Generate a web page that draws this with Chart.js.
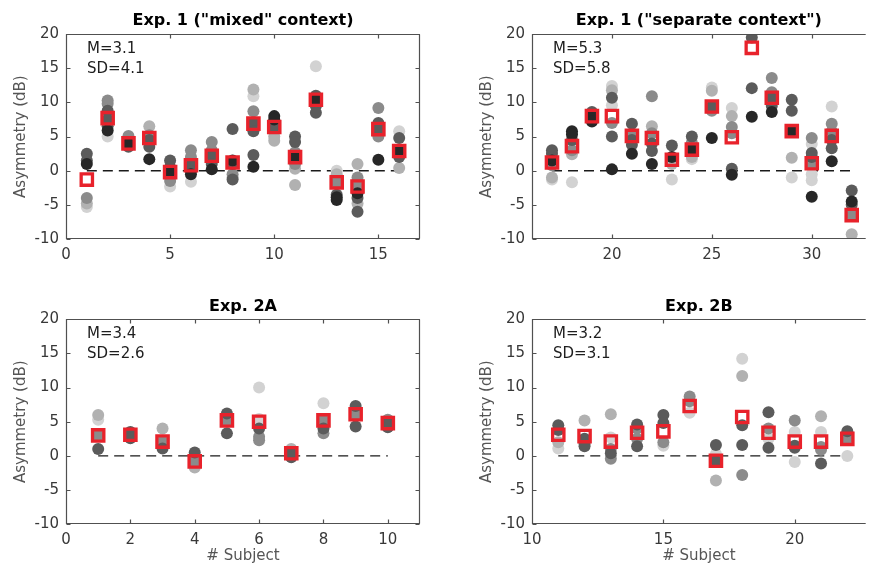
<!DOCTYPE html>
<html>
<head>
<meta charset="utf-8">
<title>Asymmetry per subject</title>
<script src="https://cdn.jsdelivr.net/npm/chart.js@4.4.1/dist/chart.umd.min.js"></script>
<style>
  body { margin: 0; background: #fff; }
  #fig { position: relative; width: 877px; height: 568px; overflow: hidden; }
  #fig canvas { position: absolute; }
</style>
</head>
<body>
<div id="fig">
  <canvas id="c1" width="440" height="285" style="left:0px;top:0px"></canvas>
  <canvas id="c2" width="437" height="285" style="left:440px;top:0px"></canvas>
  <canvas id="c3" width="440" height="283" style="left:0px;top:285px"></canvas>
  <canvas id="c4" width="437" height="283" style="left:440px;top:285px"></canvas>
</div>
<script>
// ---- data ----
// dots: one list of run values per subject, levels = grey shade of each run (0 light .. 4 black)

// Exp. 1 ("mixed" context)
var mixSubjects = [1,2,3,4,5,6,7,8,9,10,11,12,13,14,15,16];
var mixMeans = [-1.3,7.7,4.0,4.8,-0.2,0.8,2.2,1.2,6.9,6.4,2.0,10.4,-1.7,-2.3,6.1,2.9];
var mixVals = [
  [2.5,1.5,1.0,-4.0,-4.8,-5.3],
  [10.3,9.8,8.8,7.5,6.5,5.9,5.0],
  [5.1,4.0,3.5],
  [6.5,5.2,4.5,3.5,1.7],
  [1.5,0.5,-0.2,-1.5,-2.3],
  [3.0,2.0,0.8,0.0,-0.5,-1.6],
  [4.2,3.0,2.2,1.0,0.2],
  [6.1,1.5,1.0,-0.5,-1.0,-1.3],
  [11.9,10.9,8.7,7.0,5.8,2.3,0.6],
  [8.0,7.5,6.4,5.0,4.4],
  [5.0,4.2,2.7,2.0,1.0,0.3,-2.1],
  [15.3,11.0,10.4,9.5,8.5],
  [0.0,-0.5,-1.7,-3.5,-3.9,-4.3],
  [1.0,-1.0,-2.3,-3.3,-4.0,-4.8,-6.0],
  [9.2,7.0,6.5,6.1,5.0,1.6],
  [5.8,4.8,3.0,2.0,0.4]
];
var mixLevels = [
  [3,3,4,2,1,0],
  [2,2,3,3,3,4,0],
  [2,4,3],
  [1,2,3,3,4],
  [3,3,4,2,0],
  [2,2,3,3,4,0],
  [2,2,3,3,4],
  [3,4,3,2,1,3],
  [1,0,2,3,3,3,4],
  [4,4,3,1,1],
  [3,3,2,4,2,1,1],
  [0,3,4,3,3],
  [0,1,2,3,4,4],
  [1,2,2,4,3,1,3],
  [2,3,1,3,2,4],
  [0,3,4,3,1]
];
var mixStats = ['M=3.1', 'SD=4.1'];
var mixTicks = [0,5,10,15];

// Exp. 1 ("separate context")
var sepSubjects = [17,18,19,20,21,22,23,24,25,26,27,28,29,30,31,32];
var sepMeans = [1.2,3.6,8.0,8.0,5.1,4.8,1.6,3.1,9.4,4.9,18.0,10.7,5.8,1.1,5.1,-6.5];
var sepVals = [
  [3.0,2.5,1.5,0.8,-1.0,-1.3],
  [5.8,5.3,4.5,3.0,2.4,-1.7],
  [8.6,8.0,7.2],
  [12.4,11.8,10.7,9.6,7.0,5.0,0.2],
  [6.9,5.5,4.5,3.8,2.5],
  [10.9,6.5,5.5,4.0,2.9,1.0],
  [3.7,2.0,1.0,-1.3],
  [5.0,4.1,3.1,2.0,1.7],
  [12.2,11.7,9.4,8.8,4.8],
  [9.2,8.0,6.4,5.5,0.3,-0.6],
  [19.5,12.1,7.9],
  [13.6,11.5,10.7,9.5,8.6],
  [10.4,8.8,5.8,1.9,-1.0],
  [4.8,3.9,2.6,2.0,1.1,-0.5,-1.4,-3.8],
  [9.4,6.9,5.8,4.5,3.3,1.4],
  [-2.9,-4.5,-5.0,-6.5,-9.3]
];
var sepLevels = [
  [3,3,4,2,1,0],
  [4,4,3,2,1,0],
  [3,4,4],
  [0,1,3,0,2,3,4],
  [3,2,3,3,4],
  [2,1,2,3,3,4],
  [3,4,1,0],
  [3,2,4,1,0],
  [0,1,3,2,4],
  [0,1,2,2,3,4],
  [3,3,4],
  [2,2,3,3,4],
  [3,3,4,1,0],
  [2,0,3,3,2,0,0,4],
  [0,2,2,3,3,4],
  [3,4,3,2,1]
];
var sepStats = ['M=5.3', 'SD=5.8'];
var sepTicks = [20,25,30];

// Exp. 2A
var aSubjects = [1,2,3,4,5,6,7,8,9,10];
var aMeans = [3.0,3.1,2.1,-0.8,5.2,5.0,0.4,5.2,6.1,4.8];
var aVals = [
  [6.0,5.3,3.0,1.0],
  [3.5,3.1,2.6],
  [4.0,2.1,1.1],
  [0.5,-0.8,-1.7],
  [6.2,5.5,5.2,3.3],
  [10.0,5.4,4.0,2.8,2.3],
  [1.0,0.4,-0.2],
  [7.7,5.2,4.0,3.3],
  [7.3,6.1,4.3],
  [5.3,4.8,4.2]
];
var aLevels = [
  [1,0,2,3],
  [3,2,3],
  [1,2,3],
  [3,2,1],
  [3,2,2,3],
  [0,0,3,2,2],
  [1,3,3],
  [0,2,3,2],
  [3,2,3],
  [2,3,3]
];
var aStats = ['M=3.4', 'SD=2.6'];
var aTicks = [0,2,4,6,8,10];

// Exp. 2B
var bSubjects = [11,12,13,14,15,16,17,18,19,20,21,22];
var bMeans = [3.1,2.9,2.1,3.4,3.6,7.3,-0.7,5.7,3.4,2.1,2.1,2.5];
var bVals = [
  [4.5,3.8,2.0,1.1],
  [5.2,2.5,1.8,1.4],
  [6.1,2.7,1.0,0.4,-0.4],
  [4.6,4.0,2.5,1.4],
  [6.0,4.8,2.0,1.5],
  [8.7,8.0,6.3],
  [1.6,0.3,-0.7,-3.6],
  [14.2,11.7,4.5,1.6,-2.8],
  [6.4,4.0,2.5,1.2],
  [5.2,3.5,1.5,1.2,-0.9],
  [5.8,3.5,1.3,0.9,-1.1],
  [3.6,2.5,0.0]
];
var bLevels = [
  [3,3,1,0],
  [1,3,3,3],
  [1,0,2,3,2],
  [3,2,2,3],
  [3,3,2,0],
  [2,2,0],
  [3,0,3,1],
  [0,1,3,3,2],
  [3,2,0,3],
  [2,0,3,3,0],
  [1,0,2,2,3],
  [3,2,0]
];
var bStats = ['M=3.2', 'SD=3.1'];
var bTicks = [10,15,20];

var yTicks = [-10,-5,0,5,10,15,20];

// ---- drawing ----
var shades = ['#d2d2d2', '#b1b1b1', '#8b8b8b', '#5b5b5b', '#272727'];
var FONT = 'DejaVu Sans';

// box with inward tick marks, like matlab "box on"
var framePlugin = {
    id: 'frame',
    afterDatasetsDraw: function (chart, args, opts) {
        var ctx = chart.ctx, a = chart.chartArea;
        var x = chart.scales.x, y = chart.scales.y;
        var L = Math.round(a.left) + 0.5, R = Math.round(a.right) - 0.5;
        var T = Math.round(a.top) + 0.5, B = Math.round(a.bottom) - 0.5;
        ctx.save();
        ctx.strokeStyle = '#505050';
        ctx.lineWidth = 1.2;
        ctx.beginPath();
        ctx.moveTo(a.right, T); ctx.lineTo(L, T); ctx.lineTo(L, B); ctx.lineTo(a.right, B);
        if (opts.right) { ctx.moveTo(R, T); ctx.lineTo(R, B); }
        x.ticks.forEach(function (t) {
            var px = Math.round(x.getPixelForValue(t.value)) + 0.5;
            ctx.moveTo(px, B); ctx.lineTo(px, B - 4);
            ctx.moveTo(px, T); ctx.lineTo(px, T + 4);
        });
        y.ticks.forEach(function (t) {
            var py = Math.round(y.getPixelForValue(t.value)) + 0.5;
            ctx.moveTo(L, py); ctx.lineTo(L + 4, py);
            if (opts.right) { ctx.moveTo(R, py); ctx.lineTo(R - 4, py); }
        });
        ctx.stroke();
        ctx.restore();
    }
};

// M / SD text in the upper left corner
var insetPlugin = {
    id: 'inset',
    afterDraw: function (chart, args, opts) {
        var ctx = chart.ctx, a = chart.chartArea;
        ctx.save();
        ctx.font = '15px "' + FONT + '"';
        ctx.fillStyle = '#1e1e1e';
        ctx.textBaseline = 'middle';
        ctx.textAlign = 'left';
        (opts.lines || []).forEach(function (s, i) {
            ctx.fillText(s, a.left + 21, a.top + 15 + i * 20);
        });
        ctx.restore();
    }
};

function dotData(subjects, vals, levels, lev) {
    var out = [];
    subjects.forEach(function (s, i) {
        vals[i].forEach(function (v, j) {
            if (levels[i][j] === lev) out.push({x: s, y: v});
        });
    });
    return out;
}

function makePanel(id, p) {
    var datasets = [];
    datasets.push({
        data: p.subjects.map(function (s, i) { return {x: s, y: p.means[i]}; }),
        pointStyle: 'rect',
        pointRadius: 8,
        borderColor: '#e8222b',
        borderWidth: 3.3,
        backgroundColor: 'rgba(0,0,0,0)',
        order: 0
    });
    for (var lev = 4; lev >= 0; lev--) {
        datasets.push({
            data: dotData(p.subjects, p.vals, p.levels, lev),
            pointRadius: 6,
            borderWidth: 0,
            backgroundColor: shades[lev],
            clip: 0,
            order: 6 - lev
        });
    }
    var first = p.subjects[0], last = p.subjects[p.subjects.length - 1];
    datasets.push({
        type: 'line',
        data: [{x: first, y: 0}, {x: last, y: 0}],
        borderColor: '#1a1a1a',
        borderWidth: 1.3,
        borderDash: [10, 6],
        pointRadius: 0,
        showLine: true,
        order: 20
    });

    return new Chart(document.getElementById(id), {
        type: 'scatter',
        data: {datasets: datasets},
        plugins: [framePlugin, insetPlugin],
        options: {
            responsive: false,
            animation: false,
            events: [],
            layout: {padding: {left: p.padLeft, right: p.padRight, top: 0, bottom: 0}},
            plugins: {
                legend: {display: false},
                tooltip: {enabled: false},
                title: {
                    display: true,
                    text: p.title,
                    fullSize: false,
                    color: '#000',
                    font: {family: FONT, size: 16, weight: 'bold'},
                    padding: p.titlePad
                },
                frame: {right: p.right},
                inset: {lines: p.stats}
            },
            scales: {
                x: {
                    type: 'linear',
                    min: p.xMin,
                    max: p.xMax,
                    afterBuildTicks: function (scale) {
                        scale.ticks = p.xTicks.map(function (v) { return {value: v}; });
                    },
                    afterFit: function (scale) { scale.height = p.xHeight; },
                    grid: {display: false, drawTicks: false},
                    border: {display: false},
                    ticks: {
                        color: '#383838',
                        padding: 7,
                        maxRotation: 0,
                        autoSkip: false,
                        font: {family: FONT, size: 15}
                    },
                    title: {
                        display: !!p.xTitle,
                        text: p.xTitle || '',
                        color: '#555',
                        font: {family: FONT, size: 15},
                        padding: {top: 0, bottom: 3}
                    }
                },
                y: {
                    min: -10,
                    max: 20,
                    afterBuildTicks: function (scale) {
                        scale.ticks = yTicks.map(function (v) { return {value: v}; });
                    },
                    afterFit: function (scale) { scale.width = 66; },
                    grid: {display: false, drawTicks: false},
                    border: {display: false},
                    ticks: {
                        color: '#383838',
                        padding: 7,
                        font: {family: FONT, size: 15}
                    },
                    title: {
                        display: true,
                        text: 'Asymmetry (dB)',
                        color: '#555',
                        font: {family: FONT, size: 15},
                        padding: {top: 12, bottom: 0}
                    }
                }
            }
        }
    });
}

makePanel('c1', {
    title: 'Exp. 1 ("mixed" context)',
    subjects: mixSubjects, means: mixMeans, vals: mixVals, levels: mixLevels,
    stats: mixStats, xMin: 0, xMax: 17, xTicks: mixTicks,
    padLeft: 0, padRight: 20, right: true, xHeight: 46,
    titlePad: {top: 11, bottom: 4}
});
makePanel('c2', {
    title: 'Exp. 1 ("separate context")',
    subjects: sepSubjects, means: sepMeans, vals: sepVals, levels: sepLevels,
    stats: sepStats, xMin: 16, xMax: 32.7, xTicks: sepTicks,
    padLeft: 26, padRight: 0, right: false, xHeight: 46,
    titlePad: {top: 11, bottom: 4}
});
makePanel('c3', {
    title: 'Exp. 2A',
    subjects: aSubjects, means: aMeans, vals: aVals, levels: aLevels,
    stats: aStats, xMin: 0, xMax: 11, xTicks: aTicks, xTitle: '# Subject',
    padLeft: 0, padRight: 20, right: true, xHeight: 43.7,
    titlePad: {top: 12, bottom: 3}
});
makePanel('c4', {
    title: 'Exp. 2B',
    subjects: bSubjects, means: bMeans, vals: bVals, levels: bLevels,
    stats: bStats, xMin: 10, xMax: 22.7, xTicks: bTicks, xTitle: '# Subject',
    padLeft: 26, padRight: 0, right: false, xHeight: 43.7,
    titlePad: {top: 12, bottom: 3}
});
</script>
</body>
</html>
